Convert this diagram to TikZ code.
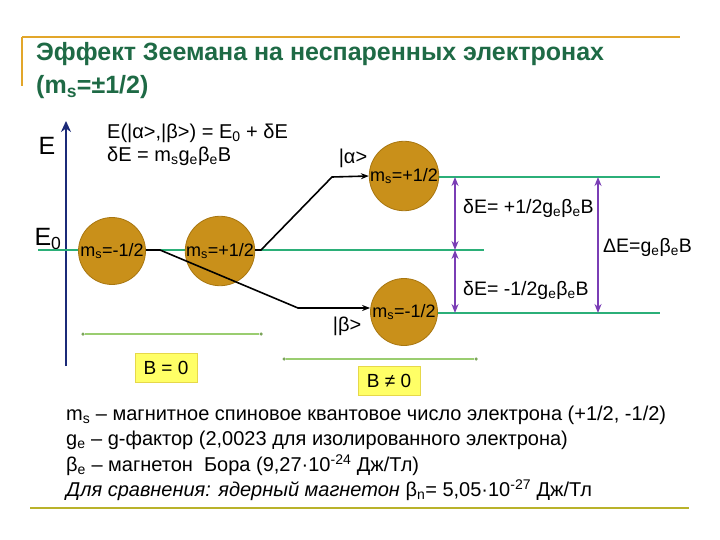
\documentclass[tikz,border=0pt]{standalone}
\usepackage{fontspec}
\setmainfont{Liberation Sans}
\usetikzlibrary{arrows.meta}
\definecolor{titlegreen}{HTML}{1E6A45}
\definecolor{orangeline}{HTML}{E2A62A}
\definecolor{oliveline}{HTML}{B9B22A}
\definecolor{ballfill}{HTML}{C9901A}
\definecolor{balldraw}{HTML}{A87610}
\definecolor{levelgreen}{HTML}{2BAF78}
\definecolor{purp}{HTML}{7A3DB5}
\definecolor{navy}{HTML}{1B2A78}
\definecolor{lightgreen}{HTML}{9ACD70}
\definecolor{boxyellow}{HTML}{FFFF66}
\definecolor{boxedge}{HTML}{E6D84A}
\tikzset{
  ball/.style={circle, fill=ballfill, draw=balldraw, line width=0.8pt, minimum size=67pt, inner sep=0pt, font=\fontsize{18}{20}\selectfont},
  level/.style={levelgreen, line width=2.6pt},
  patharrow/.style={black, line width=1.6pt, -{Stealth[length=8pt,width=6pt]}},
  darrow/.style={purp, line width=1.8pt, {Stealth[length=9pt,width=7pt]}-{Stealth[length=9pt,width=7pt]}},
  bline/.style={lightgreen, line width=1.3pt},
  bdot/.style={circle, fill=lightgreen!80!black, inner sep=0pt, minimum size=3.5pt},
  ybox/.style={fill=boxyellow, draw=boxedge, line width=0.8pt, inner sep=0pt, minimum width=62pt, minimum height=29pt, font=\fontsize{19}{21}\selectfont},
  lbl/.style={font=\fontsize{20}{22}\selectfont, inner sep=0pt},
  dlbl/.style={font=\fontsize{19.5}{22}\selectfont, inner sep=0pt, anchor=west},
  body/.style={font=\fontsize{20}{22}\selectfont, anchor=west, inner sep=0pt},
}
\begin{document}
\begin{tikzpicture}[x=1pt,y=-1pt]
\useasboundingbox (0,0) rectangle (720,540);
% frame lines
\draw[orangeline, line width=1.2pt] (22,37) -- (680,37);
\draw[orangeline, line width=1.2pt] (22,37) -- (22,86);
\draw[oliveline, line width=2.2pt] (30,508) -- (689,508);
% title
\node[anchor=west, inner sep=0pt, text=titlegreen, font=\fontsize{25}{28}\selectfont\bfseries] (t1) at (36,54) {Эффект Зеемана на неспаренных электронах};
\node[anchor=west, inner sep=0pt, text=titlegreen, font=\fontsize{25}{28}\selectfont\bfseries] (t2) at (36,87) {(m\textsubscript{s}=±1/2)};
% energy axis
\coordinate (axb) at (66,366);
\coordinate (axt) at (66,121);
\draw[navy, line width=2.6pt, -{Stealth[length=11pt,width=10pt]}] (axb) -- (axt);
\node[font=\fontsize{25}{27}\selectfont, inner sep=0pt] (Elab) at (47,146) {E};
\node[font=\fontsize{25}{27}\selectfont, inner sep=0pt] (E0lab) at (48,239) {E\textsubscript{0}};
% formulas
\node[lbl, anchor=west] (f1) at (107,133) {E(|α>,|β>) = E\textsubscript{0} + δE};
\node[lbl, anchor=west] (f2) at (107,156) {δE = m\textsubscript{s}g\textsubscript{e}β\textsubscript{e}B};
% level lines
\coordinate (l0a) at (38,250);
\coordinate (l0b) at (484,250);
\draw[level] (l0a) -- (l0b);
\coordinate (lua) at (437,177);
\coordinate (lub) at (660,177);
\draw[level] (lua) -- (lub);
\coordinate (lla) at (437,313);
\coordinate (llb) at (660,313);
\draw[level] (lla) -- (llb);
% balls
\node[ball] (b1) at (112,251) {m\textsubscript{s}=-1/2};
\node[ball] (b2) at (220,251) {m\textsubscript{s}=+1/2};
\node[ball] (b3) at (404,176) {m\textsubscript{s}=+1/2};
\node[ball] (b4) at (404,312) {m\textsubscript{s}=-1/2};
% paths
\coordinate (pa1) at (261,250);
\coordinate (pa2) at (332,177);
\draw[patharrow] (b2.east |- pa1) -- (pa1) -- (pa2) -- (b3.west);
\coordinate (pb1) at (160,250);
\coordinate (pb2) at (298,308);
\draw[patharrow] (b1.east |- pb1) -- (pb1) -- (pb2) -- (b4.west |- pb2);
\node[lbl] (alpha) at (353,158) {|α>};
\node[lbl] (beta) at (347,326) {|β>};
% purple arrows
\coordinate (d1t) at (455,177);
\coordinate (d1m) at (455,250);
\coordinate (d1b) at (455,313);
\draw[darrow] (d1t) -- (d1m);
\draw[darrow] (d1m) -- (d1b);
\coordinate (d2t) at (598,177);
\coordinate (d2b) at (598,313);
\draw[darrow] (d2t) -- (d2b);
\node[dlbl] (de1) at (463,208) {δE= +1/2g\textsubscript{e}β\textsubscript{e}B};
\node[dlbl] (de2) at (463,290) {δE= -1/2g\textsubscript{e}β\textsubscript{e}B};
\node[dlbl] (DE) at (603,247) {ΔE=g\textsubscript{e}β\textsubscript{e}B};
% B ranges
\node[bdot] (r1a) at (83,334) {};
\node[bdot] (r1b) at (261,334) {};
\draw[bline] (r1a) -- (r1b);
\node[bdot] (r2a) at (284,359) {};
\node[bdot] (r2b) at (476,359) {};
\draw[bline] (r2a) -- (r2b);
\node[ybox] (B0) at (166,368) {B = 0};
\node[ybox] (B1) at (389,381) {B ≠ 0};
% bottom text
\node[body] (x1) at (66,415) {m\textsubscript{s} – магнитное спиновое квантовое число электрона (+1/2, -1/2)};
\node[body] (x2) at (66,440) {g\textsubscript{e} – g-фактор (2,0023 для изолированного электрона)};
\node[body] (x3) at (66,465) {β\textsubscript{e} – магнетон \ Бора (9,27·10\textsuperscript{-24} Дж/Тл)};
\node[body] (x4) at (66,490) {\textit{Для сравнения: ядерный магнетон} β\textsubscript{n}= 5,05·10\textsuperscript{-27} Дж/Тл};
\end{tikzpicture}
\end{document}
